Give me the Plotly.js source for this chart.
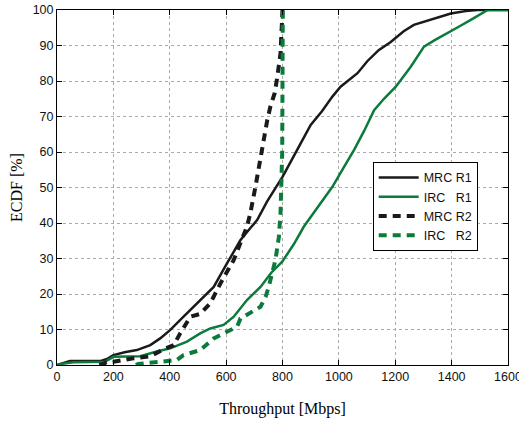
<!DOCTYPE html>
<html><head><meta charset="utf-8">
<script src="https://cdn.plot.ly/plotly-3.0.1.min.js"></script>
<style>html,body{margin:0;padding:0;background:#fff}#c{width:519px;height:424px}</style>
</head><body><div id="c"></div>
<script>
const seriesNames = ["MRC R1", "IRC\u00a0\u00a0\u00a0R1", "MRC R2", "IRC\u00a0\u00a0\u00a0R2"];
const mrcR1_x = [0,20,46,153,180,200,240,283,331,366,402,449,508,556,603,651,686,710,745,800,852,900,940,977,1006,1066,1100,1141,1184,1230,1266,1302,1350,1397,1450,1492,1600];
const mrcR1_y = [0,0.5,1.1,1.1,1.8,2.8,3.6,4.2,5.6,7.5,9.9,13.6,18.3,22,28.6,35.2,38.6,40.8,46,53,60.6,67.6,71.5,75.6,78.4,82.2,85.5,88.7,91,94,95.8,96.7,98,99,99.7,100,100];
const ircR1_x = [0,14,58,170,200,295,354,402,461,508,544,591,627,674,722,760,799,840,876,930,977,1020,1054,1090,1125,1160,1202,1255,1302,1340,1385,1430,1468,1500,1528,1600];
const ircR1_y = [0,0.3,0.8,0.9,2.3,2.5,3.8,4.7,6.6,8.9,10.3,11.3,13.6,18.3,22,26,29.1,34,39,45,50.2,56,60.6,66,71.8,75,78.4,84,89.7,91.5,93.4,95.5,97.2,98.8,100,100];
const mrcR2_x = [150,165,175,200,271,331,378,414,437,473,508,544,580,627,674,686,704,728,746,757,772,781,787,793,800];
const mrcR2_y = [0,0.3,0.8,0.9,1.9,2.5,4.4,5.6,8.9,13.6,14.4,17.4,23,29.6,39,42.8,50.2,61.5,69,72.8,76.5,80.8,84,87.8,100];
const ircR2_x = [280,288,366,425,449,508,556,603,639,651,698,722,740,751,775,787,793,797,799,800,801];
const ircR2_y = [0,0.3,0.9,1.4,2.8,4.2,7.5,9.4,10.8,13.1,15.5,16.4,19.2,22,29.6,36,42.8,50,60,80,100];
const xTicks = [0,200,400,600,800,1000,1200,1400,1600];
const yTicks = [0,10,20,30,40,50,60,70,80,90,100];

const black = '#1a1a1a', green = '#0b7a3b';
const traces = [
  {x: mrcR1_x, y: mrcR1_y, name: seriesNames[0], mode: 'lines', line: {color: black, width: 2.5}},
  {x: ircR1_x, y: ircR1_y, name: seriesNames[1], mode: 'lines', line: {color: green, width: 2.5}},
  {x: mrcR2_x, y: mrcR2_y, name: seriesNames[2], mode: 'lines', line: {color: black, width: 4, dash: '8px,6px'}},
  {x: ircR2_x, y: ircR2_y, name: seriesNames[3], mode: 'lines', line: {color: green, width: 4, dash: '8px,6px'}}
];
const axisCommon = {
  showline: true, linecolor: '#000', linewidth: 1, mirror: 'allticks',
  ticks: 'inside', ticklen: 5, tickcolor: '#000',
  showgrid: true, gridcolor: '#aaa', griddash: 'dot', gridwidth: 1,
  zeroline: false, tickfont: {family: 'Liberation Sans, Arial', size: 12.5, color: '#111'}
};
const layout = {
  width: 519, height: 424,
  margin: {l: 57, r: 11, t: 10, b: 59},
  paper_bgcolor: '#fff', plot_bgcolor: '#fff',
  showlegend: true,
  xaxis: Object.assign({}, axisCommon, {range: [0, 1600], tickvals: xTicks, ticktext: xTicks.map(String), ticklabeloverflow: 'allow',
    title: {text: 'Throughput [Mbps]', font: {family: 'Liberation Serif, Times New Roman', size: 16, color: '#000'}, standoff: 19}}),
  yaxis: Object.assign({}, axisCommon, {range: [0, 100], tickvals: yTicks, ticktext: yTicks.map(String),
    title: {text: 'ECDF [%]', font: {family: 'Liberation Serif, Times New Roman', size: 16, color: '#000'}, standoff: 6}}),
  legend: {x: 0.700, y: 0.572, xanchor: 'left', yanchor: 'top', bgcolor: '#fff', bordercolor: '#000', borderwidth: 1,
    font: {family: 'Liberation Sans, Arial', size: 12.5, color: '#111'}, itemwidth: 40, tracegroupgap: 0},
  font: {family: 'Liberation Sans, Arial', color: '#000'}
};
Plotly.newPlot('c', traces, layout, {displayModeBar: false, staticPlot: true});
</script></body></html>
